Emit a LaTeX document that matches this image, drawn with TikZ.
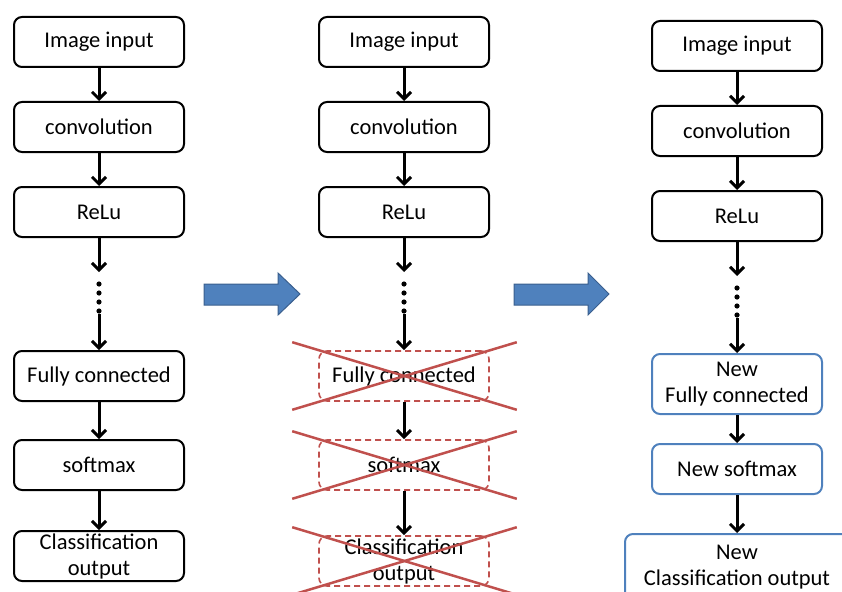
\documentclass[tikz,border=0pt]{standalone}
\usepackage{fontspec}
\setmainfont{Carlito}
\usetikzlibrary{arrows.meta,calc}
\definecolor{boxblue}{HTML}{4F81BD}
\definecolor{arrowedge}{HTML}{3A5F8E}
\definecolor{crossred}{HTML}{C0504D}
\begin{document}
\begin{tikzpicture}[x=1pt,y=-1pt,
    box/.style={draw,line width=2pt,rounded corners=8pt,minimum width=170pt,minimum height=50pt,
        align=center,inner sep=1pt,font=\fontsize{22.5}{26}\selectfont},
    newbox/.style={box,draw=boxblue},
    oldbox/.style={box,draw=crossred,line width=1.6pt,dash pattern=on 6pt off 4pt},
    flow/.style={draw=black,line width=3pt,-{Straight Barb[length=7pt,width=14pt]}},
    cross/.style={crossred,line width=2.5pt},
    bigarrow/.style={fill=boxblue,draw=arrowedge,line width=1pt}]
    \useasboundingbox (0,0) rectangle (842,591);
    % left column
    \node[box] (img1) at (99,42) {Image input};
    \node[box] (conv1) at (99,127) {convolution};
    \node[box] (relu1) at (99,212) {ReLu};
    \node[box] (fc1) at (99,376) {Fully connected};
    \node[box] (soft1) at (99,465) {softmax};
    \node[box] (cls1) at (99,556) {Classification\\output};
    \coordinate (top1) at (99,272);
    \coordinate (bot1) at (99,314);
    % middle column
    \node[box] (img2) at (404,42) {Image input};
    \node[box] (conv2) at (404,127) {convolution};
    \node[box] (relu2) at (404,212) {ReLu};
    \node[oldbox] (fc2) at (404,376) {Fully connected};
    \node[oldbox] (soft2) at (404,465) {softmax};
    \node[oldbox] (cls2) at (404,561) {Classification\\output};
    \coordinate (top2) at (404,272);
    \coordinate (bot2) at (404,314);
    % right column
    \node[box] (img3) at (737,46) {Image input};
    \node[box] (conv3) at (737,131) {convolution};
    \node[box] (relu3) at (737,216) {ReLu};
    \node[newbox,minimum height=60pt] (fc3) at (737,384) {New\\Fully connected};
    \node[newbox] (soft3) at (737,469) {New softmax};
    \node[newbox,minimum width=224pt,minimum height=66pt] (cls3) at (737,567) {New\\Classification output};
    \coordinate (top3) at (737,276);
    \coordinate (bot3) at (737,318);
    % arrows
    \foreach \c in {1,2,3} {
        \draw[flow] (img\c) -- (conv\c);
        \draw[flow] (conv\c) -- (relu\c);
        \draw[flow] (relu\c) -- (top\c);
        \draw[flow] (bot\c) -- (fc\c);
        \draw[flow] (fc\c) -- (soft\c);
        \draw[flow] (soft\c) -- (cls\c);
        \foreach \d in {12,21,30,39}
            \fill ($(top\c)+(0,\d)$) circle (2.6pt);
    }
    % crossed out layers
    \foreach \n in {fc2,soft2,cls2} {
        \draw[cross] ($(\n.north west)+(-26,-8)$) -- ($(\n.south east)+(27,8)$);
        \draw[cross] ($(\n.south west)+(-26,8)$) -- ($(\n.north east)+(27,-8)$);
    }
    % big blue arrows
    \draw[bigarrow] (204,284) -- (278,284) -- (278,273) -- (300,294) -- (278,315) -- (278,305) -- (204,305) -- cycle;
    \draw[bigarrow] (514,284) -- (588,284) -- (588,273) -- (609,294) -- (588,315) -- (588,305) -- (514,305) -- cycle;
\end{tikzpicture}
\end{document}
